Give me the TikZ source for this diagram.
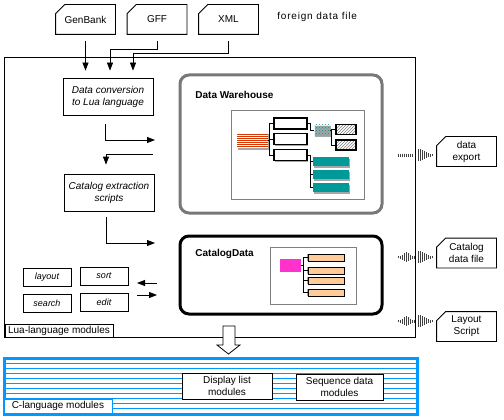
\documentclass[tikz,border=0pt]{standalone}
\usepackage{fontspec}
\setmainfont{Liberation Sans}
\newfontfamily\widefont[LetterSpace=8]{Liberation Sans}
\usetikzlibrary{arrows.meta,patterns,shadows}
\definecolor{stripered}{RGB}{215,55,5}
\definecolor{dwteal}{RGB}{0,153,153}
\definecolor{catpink}{RGB}{255,51,204}
\definecolor{tanbar}{RGB}{255,204,153}
\definecolor{cblue}{RGB}{0,153,255}
\definecolor{dwgray}{RGB}{120,120,120}

\begin{document}
\begin{tikzpicture}[x=1pt, y=-1pt, line width=0.8pt,
  file/.style = {minimum width=59pt, minimum height=29pt, inner sep=0pt, align=center},
  proc/.style = {draw, minimum width=90pt, minimum height=37pt, inner sep=0pt, align=center, font=\itshape},
  mod/.style = {draw, minimum width=48pt, minimum height=18pt, inner sep=0pt, font=\small\itshape},
  arr/.style = {-{Triangle[length=8pt,width=6pt]}},
  store/.style = {draw, rounded corners=9pt, line width=3pt},
  panel/.style = {draw=gray, line width=1pt, fill=white, inner sep=0pt},
  boxshadow/.style = {drop shadow={shadow xshift=1pt, shadow yshift=-1.5pt, fill=gray!70, opacity=1}},
  slot/.style = {draw, fill=white, line width=1.2pt, minimum width=33pt, minimum height=11pt, inner sep=0pt, boxshadow},
  hatch/.style = {draw, line width=1.4pt, pattern=north east lines, pattern color=gray, minimum width=20pt, minimum height=10pt, inner sep=0pt},
  tealbar/.style = {fill=dwteal, minimum width=36pt, minimum height=9pt, inner sep=0pt, boxshadow},
  tanslot/.style = {draw, fill=tanbar, line width=1pt, minimum width=36pt, minimum height=7pt, inner sep=0pt, drop shadow={shadow xshift=-1.5pt, shadow yshift=0pt, fill=gray!70, opacity=1}},
  wave/.style = {black!75, line width=0.7pt}]
\useasboundingbox (0,0) rectangle (504,420);

\node[draw, minimum width=411pt, minimum height=280pt, inner sep=0pt] (lua) at (209.5,197) {};
\node[draw, fill=white, anchor=south west, minimum width=108pt, minimum height=13pt, inner sep=1pt] (lualbl) at ([xshift=1pt]lua.south west) {Lua-language modules};

\node[file] (gb) at (85.5,19.5) {GenBank};
\node[file] (gff) at (157,19.5) {GFF};
\node[file] (xml) at (228.5,19.5) {XML};
\node[anchor=west, inner sep=0pt] (foreign) at (277,17) {\widefont foreign data file};
\node[file] (exp) at (466.5,151.5) {data\\export};
\node[file] (cdf) at (466.5,253) {Catalog\\data file};
\node[file] (ls) at (466.5,326.5) {Layout\\Script};
\foreach \n in {gb,gff,xml,exp,cdf,ls}
  \draw ([yshift=-9pt]\n.north west) -- ([xshift=9pt]\n.north west) -- (\n.north east) -- (\n.south east) -- (\n.south west) -- cycle;

\node[proc] (dc) at (108,96.5) {Data conversion\\to Lua language};
\node[proc] (ce) at (109,192.5) {Catalog extraction\\scripts};
\node[mod] (layout) at (47,277) {layout};
\node[mod] (sort) at (104,276) {sort};
\node[mod] (search) at (47,303) {search};
\node[mod] (edit) at (104,302) {edit};

\node[store, draw=dwgray, minimum width=202pt, minimum height=138pt] (dw) at (281,144) {};
\node[anchor=base west, font=\bfseries, inner sep=0pt] (dwtitle) at (195,98.5) {Data Warehouse};
\node[panel, minimum width=133pt, minimum height=88pt] (dwp) at (297.5,155) {};
\node[store, minimum width=202pt, minimum height=78pt] (cd) at (281,275) {};
\node[anchor=base west, font=\bfseries, inner sep=0pt] (cdtitle) at (195,256.5) {CatalogData};
\node[panel, minimum width=86pt, minimum height=57pt] (cdp) at (313,275.5) {};

\node[slot] (wb1) at (290.5,123.5) {};
\node[slot] (wb2) at (290.5,139) {};
\node[slot] (wb3) at (290.5,155) {};
\node[pattern=crosshatch dots, pattern color=dwteal, minimum width=16pt, minimum height=11pt, inner sep=0pt, boxshadow] (tc) at (322,130.5) {};
\node[hatch] (h1) at (346,129.5) {};
\node[hatch] (h2) at (346,145) {};
\node[tealbar] (t1) at (331,161.5) {};
\node[tealbar] (t2) at (331,174.5) {};
\node[tealbar] (t3) at (331,187.5) {};
\draw (wb1.west) -- ++(-4,0) |- (wb3.west);
\draw (wb2.west) -- ++(-4,0);
\draw (wb1.east) -- ++(3,0) |- (tc.west);
\draw (tc.east) -- ++(2,0);
\draw (h1.west) -- ++(-4,0) |- (h2.west);
\draw (wb3.east) -- ++(3,0) |- (t3.west);
\draw (t1.west) -- ++(-3,0);
\draw (t2.west) -- ++(-3,0);

\node[fill=catpink, minimum width=21pt, minimum height=13pt, inner sep=0pt] (mg) at (290.5,265.5) {};
\node[tanslot] (tb1) at (326,257.5) {};
\node[tanslot] (tb2) at (326,270.5) {};
\node[tanslot] (tb3) at (326,280.5) {};
\node[tanslot] (tb4) at (326,292.5) {};
\draw (mg.east) -- ++(3,0);
\draw (tb1.west) -- ++(-4,0) |- (tb4.west);
\draw (tb2.west) -- ++(-4,0);
\draw (tb3.west) -- ++(-4,0);

\coordinate (todw) at (155,140);
\coordinate (fromdw) at (153,154);
\coordinate (tocd) at (155,243);
\coordinate (fromcd) at (157,283);
\coordinate (tomods) at (137,295);
\draw[arr, shorten <=7pt, shorten >=7pt] (gb.south) -- (gb.south |- dc.north);
\draw[arr, shorten <=7pt, shorten >=7pt] (gff.south) -- ++(0,15) -| ([xshift=2pt]dc.north);
\draw[arr, shorten <=7pt, shorten >=7pt] (xml.south) -- ++(0,19) -| ([xshift=25pt]dc.north);
\draw[arr, shorten <=9pt] ([xshift=-3pt]dc.south) |- (todw);
\draw[arr, shorten >=9pt] (fromdw) -| ([xshift=-3pt]ce.north);
\draw[arr, shorten <=6pt] ([xshift=-3pt]ce.south) |- (tocd);
\draw[arr] (fromcd) -- ++(-20,0);
\draw[arr] (tomods) -- ++(20,0);

\foreach \x in {398,400,...,412}
  \draw[wave] (\x,153.5) -- (\x,156.5);
\foreach \x/\h in {418/12,420/12,422/10,424/8,426/6,428/4,430/3,432/2}
  \draw[wave] (\x,155-\h/2) -- (\x,155+\h/2);
\foreach \yy in {257,321}
  \foreach \x/\h in {398/2,400/3,402/5,404/8,406/10,408/8,410/5,412/3,414/3,418/12,420/12,422/10,424/8,426/6,428/4,430/3,432/2}
    \draw[wave] (\x,\yy-\h/2) -- (\x,\yy+\h/2);

\draw[fill=white] (223,326) -- (235,326) -- (235,345) -- (240,345) -- (228.5,354) -- (217,345) -- (223,345) -- cycle;

\node[draw=cblue, line width=3pt, minimum width=413pt, minimum height=56pt, inner sep=0pt] (cm) at (210.5,386) {};
\foreach \y in {363.5,368.5,...,408.5}
  \draw[cblue, line width=1pt] (5,\y) -- (416,\y);
\node[draw, fill=white, minimum width=90pt, minimum height=26pt, inner sep=0pt, align=center] (dl) at (227,386) {Display list\\modules};
\node[draw, fill=white, minimum width=87pt, minimum height=26pt, inner sep=0pt, align=center] (sd) at (339.5,387) {Sequence data\\modules};
\node[draw=cblue, fill=white, anchor=south west, minimum width=108pt, minimum height=14pt, inner sep=1pt] (clbl) at ([xshift=1pt,yshift=2pt]cm.south west) {C-language modules};

\node[fill=white, minimum width=31pt, minimum height=15pt, inner sep=0pt, boxshadow] (rb) at (252.5,140.5) {};
\foreach \y in {134,136,...,146}
  \fill[stripered] (237,\y) rectangle (268,\y+1.3);
\draw (rb.east) -- ++(2,0);
\end{tikzpicture}
\end{document}
